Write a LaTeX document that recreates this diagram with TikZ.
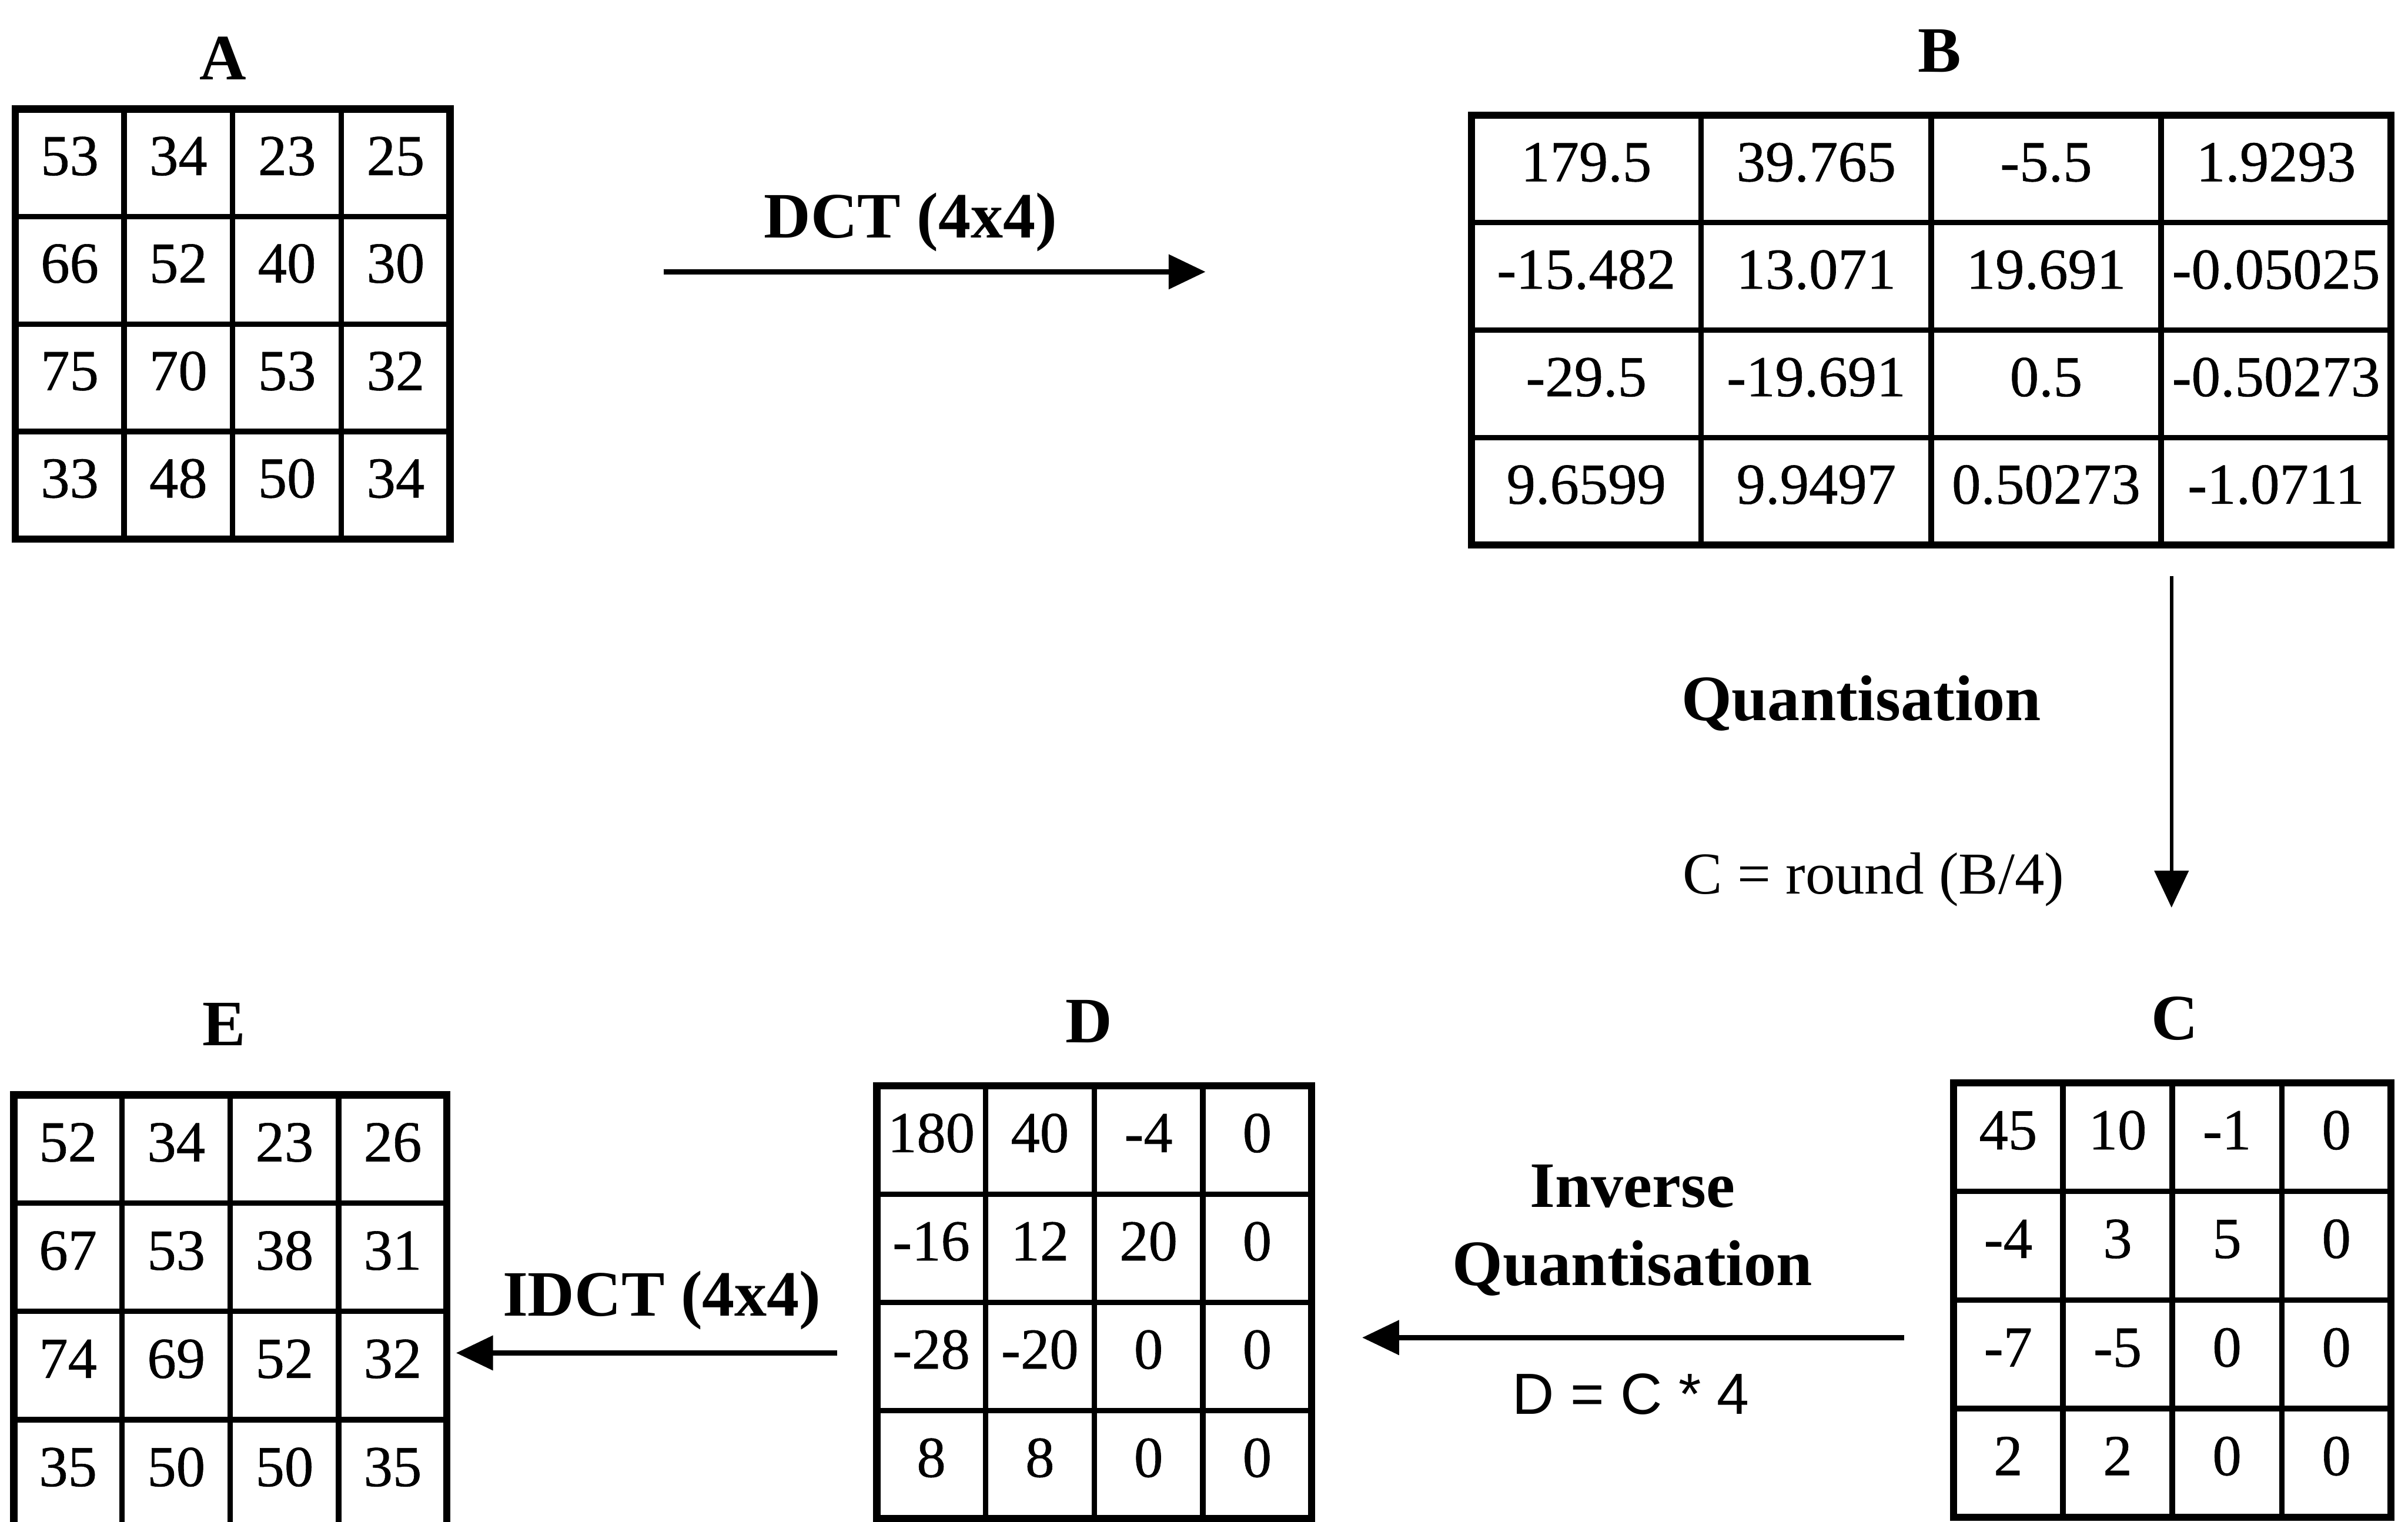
\documentclass[tikz,border=0pt]{standalone}
\usepackage{fontspec}
\setmainfont{Liberation Serif}
\newfontfamily\formulasans{Liberation Sans}
\newfontfamily\cellserif[FakeBold=0.6]{Liberation Serif}
\usetikzlibrary{arrows.meta,matrix}

\begin{document}
\begin{tikzpicture}[x=0.02cm,y=-0.02cm,
  numgrid/.style 2 args={matrix of nodes, inner sep=0pt, outer sep=0pt,
    column sep=-2pt, row sep=-2pt,
    nodes={draw, line width=2pt, minimum width=#1, minimum height=#2,
      inner sep=0pt, outer sep=0pt, text height=0.55cm, text depth=0.23cm,
      font=\fontsize{21.5}{24}\selectfont\cellserif}},
  frame/.style={line width=2.7pt},
  title/.style={anchor=base, inner sep=0pt, font=\fontsize{24}{28}\selectfont\bfseries},
  steplabel/.style={anchor=base, inner sep=0pt, font=\fontsize{24}{28}\selectfont\bfseries},
  formula/.style={anchor=base, inner sep=0pt, font=\fontsize{22}{26}\selectfont},
  flow/.style={line width=1.9pt, -{Triangle[length=0.48cm, width=0.44cm]}},
  flowv/.style={line width=1.3pt, -{Triangle[length=0.48cm, width=0.44cm]}}
]
\useasboundingbox (0,0) rectangle (1568,991);

% input block A
\matrix (A) [numgrid={1.415cm}{1.40cm}] at (151.5,211) {
  53 & 34 & 23 & 25 \\
  66 & 52 & 40 & 30 \\
  75 & 70 & 53 & 32 \\
  33 & 48 & 50 & 34 \\
};
\draw[frame] (A-1-1.north west) rectangle (A-4-4.south east);
\node[title] (tA) at (145,52) {A};

% DCT coefficients B
\matrix (B) [numgrid={2.995cm}{1.40cm}] at (1257.5,215) {
  179.5 & 39.765 & -5.5 & 1.9293 \\
  -15.482 & 13.071 & 19.691 & -0.05025 \\
  -29.5 & -19.691 & 0.5 & -0.50273 \\
  9.6599 & 9.9497 & 0.50273 & -1.0711 \\
};
\draw[frame] (B-1-1.north west) rectangle (B-4-4.south east);
\node[title] (tB) at (1263,47) {B};

% quantised coefficients C
\matrix (C) [numgrid={1.425cm}{1.415cm}] at (1414.5,846.5) {
  45 & 10 & -1 & 0 \\
  -4 & 3 & 5 & 0 \\
  -7 & -5 & 0 & 0 \\
  2 & 2 & 0 & 0 \\
};
\draw[frame] (C-1-1.north west) rectangle (C-4-4.south east);
\node[title] (tC) at (1416,677) {C};

% rescaled coefficients D
\matrix (D) [numgrid={1.415cm}{1.41cm}] at (712.5,848) {
  180 & 40 & -4 & 0 \\
  -16 & 12 & 20 & 0 \\
  -28 & -20 & 0 & 0 \\
  8 & 8 & 0 & 0 \\
};
\draw[frame] (D-1-1.north west) rectangle (D-4-4.south east);
\node[title] (tD) at (709,679) {D};

% reconstructed block E
\matrix (E) [numgrid={1.41cm}{1.41cm}] at (150,854) {
  52 & 34 & 23 & 26 \\
  67 & 53 & 38 & 31 \\
  74 & 69 & 52 & 32 \\
  35 & 50 & 50 & 35 \\
};
\draw[frame] (E-1-1.north west) rectangle (E-4-4.south east);
\node[title] (tE) at (146,681) {E};

% arrow end points
\coordinate (dctS) at (432,177);
\coordinate (dctE) at (785,177);
\coordinate (qS) at (1414,375);
\coordinate (qE) at (1414,591);
\coordinate (iqS) at (1240,871);
\coordinate (iqE) at (887,871);
\coordinate (idctS) at (545,881);
\coordinate (idctE) at (297,881);

% transform steps
\draw[flow] (dctS) -- (dctE);
\node[steplabel] (ldct) at (593,155) {DCT (4x4)};

\draw[flowv] (qS) -- (qE);
\node[steplabel] (lq) at (1212,469) {Quantisation};
\node[formula] (fq) at (1220,582) {C = round (B/4)};

\draw[flow] (iqS) -- (iqE);
\node[steplabel] (liq1) at (1063,786) {Inverse};
\node[steplabel] (liq2) at (1063,837) {Quantisation};
\node[formula, font=\fontsize{21.5}{24}\selectfont\formulasans] (fiq) at (1062,921) {D = C * 4};

\draw[flow] (idctS) -- (idctE);
\node[steplabel] (lidct) at (431,857) {IDCT (4x4)};
\end{tikzpicture}
\end{document}
